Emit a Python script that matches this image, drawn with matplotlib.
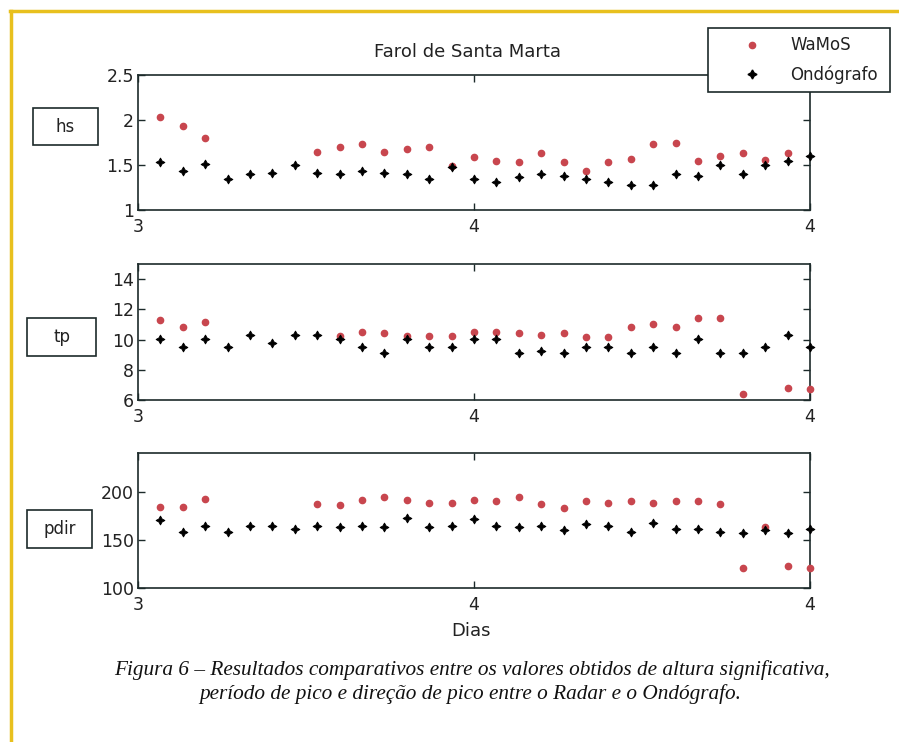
import numpy as np
import matplotlib
matplotlib.use("Agg")
import matplotlib.pyplot as plt
from matplotlib.lines import Line2D
from matplotlib.patches import Rectangle

nan = np.nan
# sample index (hourly samples between day 3 and day 4)
samples = list(range(1, 31))
x_ticks = [0, 15, 30]
x_ticklabels = ["3", "4", "4"]

hs_wamos = [2.03, 1.93, 1.80, nan, nan, nan, nan, 1.645, 1.70, 1.73,
            1.645, 1.68, 1.70, 1.49, 1.585, 1.548, 1.533, 1.633, 1.533, 1.433,
            1.533, 1.567, 1.733, 1.748, 1.548, 1.60, 1.633, 1.556, 1.633, nan]
hs_ondo = [1.53, 1.43, 1.515, 1.35, 1.40, 1.415, 1.50, 1.415, 1.40, 1.43,
           1.415, 1.40, 1.35, 1.475, 1.345, 1.31, 1.367, 1.397, 1.38, 1.345,
           1.31, 1.278, 1.278, 1.40, 1.38, 1.497, 1.40, 1.497, 1.548, 1.60]

tp_wamos = [11.31, 10.8, 11.13, nan, nan, nan, nan, nan, 10.22, 10.49,
            10.42, 10.22, 10.22, 10.22, 10.53, 10.53, 10.42, 10.31, 10.42, 10.16,
            10.16, 10.8, 11.04, 10.8, 11.4, 11.4, 6.42, nan, 6.82, 6.71]
tp_ondo = [10.02, 9.49, 10.02, 9.49, 10.31, 9.8, 10.31, 10.31, 10.02, 9.49,
           9.11, 10.02, 9.49, 9.49, 10.02, 10.02, 9.11, 9.22, 9.11, 9.49,
           9.49, 9.11, 9.49, 9.11, 10.02, 9.11, 9.11, 9.49, 10.31, 9.49]

pdir_wamos = [184.4, 184.4, 192.4, nan, nan, nan, nan, 186.9, 186.2, 191.0,
              194.2, 191.0, 188.5, 188.5, 191.0, 190.0, 194.2, 186.9, 183.0, 190.0,
              188.5, 190.0, 188.5, 190.0, 190.0, 186.9, 120.8, 162.9, 122.6, 120.8]
pdir_ondo = [170.5, 158.3, 164.6, 158.3, 164.6, 164.6, 161.5, 164.6, 162.9, 164.6,
             162.9, 172.6, 162.9, 164.6, 171.9, 164.6, 162.9, 164.6, 160.1, 166.0,
             164.6, 158.3, 167.7, 161.5, 161.5, 158.3, 156.6, 160.1, 156.6, 161.5]

panels = [
    ("hs", hs_wamos, hs_ondo, (1, 2.5), [1, 1.5, 2, 2.5], ["1", "1.5", "2", "2.5"]),
    ("tp", tp_wamos, tp_ondo, (6, 15), [6, 8, 10, 12, 14], ["6", "8", "10", "12", "14"]),
    ("pdir", pdir_wamos, pdir_ondo, (100, 240), [100, 150, 200], ["100", "150", "200"]),
]

W, H = 899, 742
fig = plt.figure(figsize=(W / 100, H / 100), dpi=100)
fig.patch.set_facecolor("white")

axcol = "#1c2a2a"
txtcol = "#222222"
red = "#c8464e"
star4 = (4, 1, 0)
fs = 12.5

# axes positions in pixels: (top, bottom)
left_px, right_px = 138, 810
rows = [(75, 210), (264, 400), (453, 588)]
box_px = [(33, 108, 65, 37), (27, 318, 69, 38), (27, 510, 65, 38)]

for (name, wv, ov, ylim, yt, ytl), (t, b), bx in zip(panels, rows, box_px):
    ax = fig.add_axes([left_px / W, 1 - b / H, (right_px - left_px) / W, (b - t) / H])
    ax.plot(samples, wv, linestyle="none", marker="o", markersize=4.5,
            color=red, markeredgecolor=red, clip_on=False, zorder=3)
    ax.plot(samples, ov, linestyle="none", marker=star4, markersize=6.5,
            color="black", markeredgecolor="black", markeredgewidth=0.6,
            clip_on=False, zorder=4)
    ax.set_xlim(0, 30)
    ax.set_ylim(*ylim)
    ax.set_xticks(x_ticks)
    ax.set_xticklabels(x_ticklabels)
    ax.set_yticks(yt)
    ax.set_yticklabels(ytl)
    ax.tick_params(direction="in", length=5, width=1.0, color=axcol,
                   top=True, right=True, labelsize=fs, labelcolor=txtcol)
    ax.tick_params(axis="x", pad=6)
    ax.tick_params(axis="y", pad=3)
    for s in ax.spines.values():
        s.set_color(axcol)
        s.set_linewidth(1.2)
    # label box
    bx0, by0, bw, bh = bx
    fig.patches.append(Rectangle((bx0 / W, 1 - (by0 + bh) / H), bw / W, bh / H,
                                 transform=fig.transFigure, fill=False,
                                 edgecolor=axcol, linewidth=1.2))
    fig.text((bx0 + bw / 2) / W, 1 - (by0 + bh / 2) / H, name, ha="center",
             va="center", fontsize=12, color=txtcol)

fig.text(467 / W, 1 - 52 / H, "Farol de Santa Marta", ha="center", va="center",
         fontsize=13, color=txtcol)
fig.text(471 / W, 1 - 631 / H, "Dias", ha="center", va="center",
         fontsize=13, color=txtcol)

# legend box
lx0, ly0, lx1, ly1 = 708, 28, 890, 92
fig.patches.append(Rectangle((lx0 / W, 1 - ly1 / H), (lx1 - lx0) / W, (ly1 - ly0) / H,
                             transform=fig.transFigure, facecolor="white",
                             edgecolor=axcol, linewidth=1.2, zorder=10))
fig.add_artist(Line2D([752 / W], [1 - 45 / H], marker="o", markersize=4.5,
                      color=red, linestyle="none", transform=fig.transFigure, zorder=11))
fig.add_artist(Line2D([752 / W], [1 - 74 / H], marker=star4, markersize=6.5,
                      color="black", linestyle="none", transform=fig.transFigure, zorder=11))
fig.text(790 / W, 1 - 45 / H, "WaMoS", ha="left", va="center", fontsize=12,
         color=txtcol, zorder=11)
fig.text(790 / W, 1 - 75 / H, "Ondógrafo", ha="left", va="center", fontsize=12,
         color=txtcol, zorder=11)

# caption
cap1 = "Figura 6 – Resultados comparativos entre os valores obtidos de altura significativa,"
cap2 = "período de pico e direção de pico entre o Radar e o Ondógrafo."
fig.text(472 / W, 1 - 670 / H, cap1, ha="center", va="center", fontsize=15.3,
         family="Liberation Serif", style="italic", color="#111111")
fig.text(470 / W, 1 - 694 / H, cap2, ha="center", va="center", fontsize=15.3,
         family="Liberation Serif", style="italic", color="#111111")

# golden frame
gold = "#e8c01e"
fig.add_artist(Line2D([11 / W, 11 / W], [1 - 11 / H, 0], color=gold, linewidth=2.5,
                      transform=fig.transFigure))
fig.add_artist(Line2D([10 / W, 1], [1 - 11 / H, 1 - 11 / H], color=gold, linewidth=2.5,
                      transform=fig.transFigure))

fig.savefig("out.png", dpi=100)
